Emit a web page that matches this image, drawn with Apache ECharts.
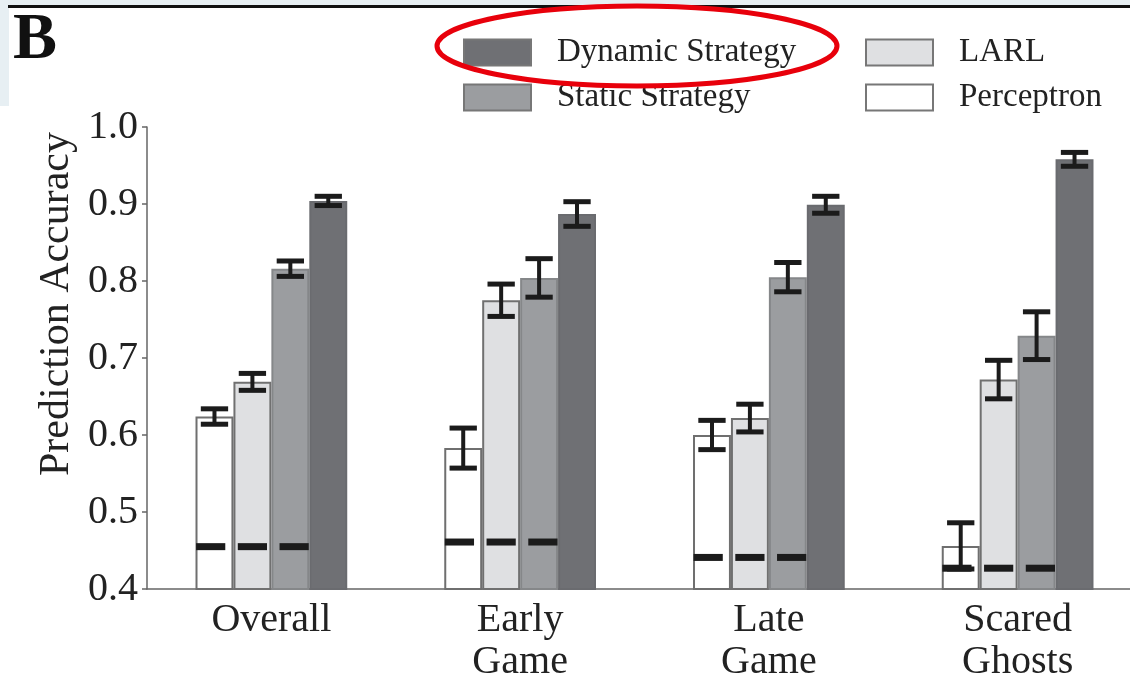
<!DOCTYPE html>
<html>
<head>
<meta charset="utf-8">
<title>Prediction Accuracy</title>
<script src="https://cdn.jsdelivr.net/npm/echarts@6/dist/echarts.min.js"></script>
<style>
  html, body { margin: 0; padding: 0; background: #fff; overflow: hidden; }
  /* 图表比窗口略宽，右侧多出部分被裁掉 */
  #main { width: 1142px; height: 690px; }
</style>
</head>
<body>
<div id="main"></div>
<script>
// 类别
var categories = ['Overall', 'Early\nGame', 'Late\nGame', 'Scared\nGhosts'];
var yTicks = [0.4, 0.5, 0.6, 0.7, 0.8, 0.9, 1.0];
// 各模型的准确率
var perceptron = [0.624, 0.583, 0.600, 0.456];
var larl = [0.669, 0.775, 0.622, 0.672];
var staticStrategy = [0.816, 0.804, 0.805, 0.729];
var dynamicStrategy = [0.904, 0.887, 0.899, 0.958];
// 误差 (半宽)
var perceptronErr = [0.010, 0.026, 0.019, 0.030];
var larlErr = [0.011, 0.021, 0.018, 0.025];
var staticErr = [0.010, 0.025, 0.019, 0.031];
var dynamicErr = [0.006, 0.016, 0.011, 0.009];
// 机会水平 (黑色短横线)
var chance = [0.455, 0.461, 0.441, 0.427];

var GAP = 0.39; // barCategoryGap
var FONT = '"Liberation Serif", "Times New Roman", serif';
var TXT = '#222';

function errData(vals, errs) {
  var out = [];
  for (var i = 0; i < vals.length; i++) {
    out.push([i, vals[i] - errs[i], vals[i] + errs[i]]);
  }
  return out;
}

// 误差线
function errorItem(idx) {
  return function (params, api) {
    var x = api.value(0);
    var lo = api.coord([x, api.value(1)]);
    var hi = api.coord([x, api.value(2)]);
    var band = api.size([1, 0])[0];
    var groupW = band * (1 - GAP);
    var barW = groupW / 4;
    var cx = lo[0] - groupW / 2 + barW * (idx + 0.5);
    var half = barW * 0.36;
    var cap = { stroke: '#1b1b1b', lineWidth: 5 };
    return {
      type: 'group',
      children: [
        { type: 'line', shape: { x1: cx, y1: hi[1], x2: cx, y2: lo[1] }, style: { stroke: '#1b1b1b', lineWidth: 4 } },
        { type: 'line', shape: { x1: cx - half, y1: hi[1], x2: cx + half, y2: hi[1] }, style: cap },
        { type: 'line', shape: { x1: cx - half, y1: lo[1], x2: cx + half, y2: lo[1] }, style: cap }
      ]
    };
  };
}

// 机会水平短横线
function chanceItem(params, api) {
  var x = api.value(0);
  var p = api.coord([x, api.value(1)]);
  var band = api.size([1, 0])[0];
  var groupW = band * (1 - GAP);
  var barW = groupW / 4;
  var mid = p[0] - groupW / 2 + barW * 1.5;
  var w = barW * 0.77;
  var kids = [];
  for (var k = 0; k < 3; k++) {
    var c = mid + (k - 1) * barW * 1.1;
    kids.push({ type: 'rect', shape: { x: c - w / 2, y: p[1] - 3.5, width: w, height: 7 }, style: { fill: '#1b1b1b' } });
  }
  return { type: 'group', children: kids };
}

var chart = echarts.init(document.getElementById('main'));

var legendBase = {
  orient: 'vertical',
  top: 36,
  padding: 0,
  itemWidth: 67,
  itemHeight: 26,
  itemGap: 12,
  icon: 'rect',
  selectedMode: false,
  itemStyle: { borderColor: '#777', borderWidth: 2 },
  textStyle: { fontFamily: FONT, fontSize: 33, color: TXT, padding: [0, 0, 0, 21] }
};

var option = {
  animation: false,
  backgroundColor: '#fff',
  textStyle: { fontFamily: FONT },
  grid: { left: 147, top: 127, right: 0, bottom: 101 },
  legend: [
    Object.assign({}, legendBase, { data: ['Dynamic Strategy', 'Static Strategy'], left: 463 }),
    Object.assign({}, legendBase, { data: ['LARL', 'Perceptron'], left: 865 })
  ],
  xAxis: {
    type: 'category',
    data: categories,
    axisLine: { lineStyle: { color: '#666', width: 1.5 } },
    axisTick: { alignWithLabel: true, length: 8, lineStyle: { color: '#666', width: 1.5 } },
    axisLabel: { fontFamily: FONT, fontSize: 40, color: TXT, lineHeight: 42, margin: 10 }
  },
  yAxis: {
    type: 'value',
    min: 0.4,
    max: 1.0,
    interval: 0.1,
    splitLine: { show: false },
    axisLine: { show: true, lineStyle: { color: '#666', width: 1.5 } },
    axisTick: { show: true, length: 5, lineStyle: { color: '#666', width: 1.5 } },
    axisLabel: {
      fontFamily: FONT, fontSize: 40, color: TXT, margin: 9,
      formatter: function (v) { return yTicks.indexOf(+v.toFixed(1)) >= 0 ? v.toFixed(1) : ''; }
    }
  },
  series: [
    { name: 'Perceptron', type: 'bar', data: perceptron, barGap: 0, barCategoryGap: GAP * 100 + '%',
      itemStyle: { color: '#ffffff', borderColor: '#6f6f6f', borderWidth: 2 } },
    { name: 'LARL', type: 'bar', data: larl, barGap: 0, barCategoryGap: GAP * 100 + '%',
      itemStyle: { color: '#dfe0e2', borderColor: '#707070', borderWidth: 2 } },
    { name: 'Static Strategy', type: 'bar', data: staticStrategy, barGap: 0, barCategoryGap: GAP * 100 + '%',
      itemStyle: { color: '#9b9da0', borderColor: '#858789', borderWidth: 2 } },
    { name: 'Dynamic Strategy', type: 'bar', data: dynamicStrategy, barGap: 0, barCategoryGap: GAP * 100 + '%',
      itemStyle: { color: '#6f7074', borderColor: '#6a6b6f', borderWidth: 2 } },
    { name: 'chance', type: 'custom', z: 5, renderItem: chanceItem,
      data: chance.map(function (v, i) { return [i, v]; }) },
    { name: 'errP', type: 'custom', z: 6, renderItem: errorItem(0), data: errData(perceptron, perceptronErr) },
    { name: 'errL', type: 'custom', z: 6, renderItem: errorItem(1), data: errData(larl, larlErr) },
    { name: 'errS', type: 'custom', z: 6, renderItem: errorItem(2), data: errData(staticStrategy, staticErr) },
    { name: 'errD', type: 'custom', z: 6, renderItem: errorItem(3), data: errData(dynamicStrategy, dynamicErr) }
  ],
  graphic: [
    // 左上角浅蓝背景
    { type: 'rect', left: 0, top: 0, shape: { width: 1142, height: 5 }, style: { fill: '#e7eff3' }, z: 0 },
    { type: 'rect', left: 0, top: 0, shape: { width: 9, height: 106 }, style: { fill: '#e7eff3' }, z: 0 },
    // 顶部黑线
    { type: 'rect', left: 8, top: 5, shape: { width: 1134, height: 3 }, style: { fill: '#111' }, z: 1 },
    // 面板标记
    { type: 'text', left: 13, top: 8, style: { text: 'B', font: 'bold 66px ' + FONT, fill: '#111' }, z: 1 },
    // y轴标题
    { type: 'text', x: 57, y: 304, rotation: Math.PI / 2,
      style: { text: 'Prediction Accuracy', font: '42px ' + FONT, fill: TXT, align: 'center', verticalAlign: 'middle' } },
    // 红色椭圆
    { type: 'ellipse', shape: { cx: 637, cy: 46, rx: 200, ry: 40 },
      style: { fill: 'none', stroke: '#e8000b', lineWidth: 5 }, z: 100 }
  ]
};

chart.setOption(option);
</script>
</body>
</html>
